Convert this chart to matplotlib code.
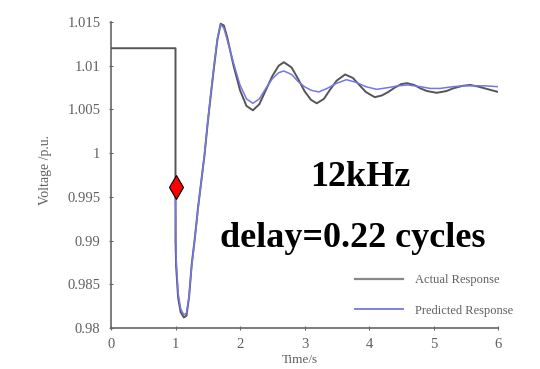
import matplotlib
matplotlib.use("Agg")
import matplotlib.pyplot as plt
from matplotlib.lines import Line2D

# Actual response (time s, voltage p.u.)
actual_t = [0.0, 1.0, 1.0, 1.01, 1.04, 1.08, 1.13, 1.17, 1.21, 1.25, 1.3, 1.35, 1.4, 1.45, 1.5,
            1.55, 1.6, 1.65, 1.7, 1.75, 1.8, 1.9, 2.0, 2.1, 2.2, 2.3, 2.4, 2.5, 2.6, 2.68, 2.8,
            2.9, 3.0, 3.1, 3.19, 3.3, 3.4, 3.5, 3.63, 3.75, 3.85, 3.95, 4.09, 4.2, 4.3,
            4.4, 4.5, 4.59, 4.7, 4.8, 4.9, 5.05, 5.2, 5.3, 5.45, 5.57, 5.7, 5.8, 5.9, 6.0]
actual_v = [1.012, 1.012, 0.990, 0.987, 0.9835, 0.9818, 0.9812, 0.9814, 0.9835, 0.9872, 0.9903,
            0.9938, 0.9968, 0.9998, 1.0035, 1.0068, 1.0100, 1.0130, 1.0148, 1.0146, 1.0133,
            1.0100, 1.0072, 1.0054, 1.0049, 1.0056, 1.0072, 1.0088, 1.0100, 1.0104, 1.0098,
            1.0085, 1.0071, 1.0061, 1.0057, 1.0062, 1.0073, 1.0083, 1.0090, 1.0086, 1.0078,
            1.0070, 1.0064, 1.0066, 1.0070, 1.0075, 1.0079, 1.0080, 1.0078, 1.0074, 1.0071,
            1.0069, 1.0071, 1.0074, 1.0077, 1.0078, 1.0076, 1.0074, 1.0072, 1.0070]

# Predicted response
pred_t = [1.0, 1.01, 1.04, 1.08, 1.13, 1.17, 1.21, 1.25, 1.3, 1.35, 1.4, 1.45, 1.5, 1.55, 1.6,
          1.65, 1.7, 1.75, 1.8, 1.9, 2.0, 2.1, 2.2, 2.3, 2.4, 2.5, 2.6, 2.68, 2.8, 2.9, 3.0,
          3.1, 3.22, 3.35, 3.5, 3.65, 3.8, 3.95, 4.12, 4.3, 4.45, 4.6, 4.8, 4.95, 5.1, 5.3,
          5.45, 5.6, 5.8, 6.0]
pred_v = [0.996, 0.988, 0.984, 0.9822, 0.9815, 0.9817, 0.9836, 0.9870, 0.9902, 0.9937, 0.9968,
          0.9999, 1.0036, 1.0070, 1.0102, 1.0131, 1.0147, 1.0143, 1.0130, 1.0103, 1.0078,
          1.0062, 1.0057, 1.0062, 1.0074, 1.0085, 1.0092, 1.0094, 1.0090, 1.0082, 1.0076,
          1.0072, 1.0070, 1.0074, 1.0080, 1.0084, 1.0081, 1.0076, 1.0073, 1.0075, 1.0077,
          1.0078, 1.0076, 1.0074, 1.0074, 1.0076, 1.0077, 1.0077, 1.0077, 1.0076]

marker_t = [1.0]
marker_v = [0.9961]

xticks = [0, 1, 2, 3, 4, 5, 6]
yticks = [0.98, 0.985, 0.99, 0.995, 1.0, 1.005, 1.01, 1.015]
ytick_labels = ["0.98", "0.985", "0.99", "0.995", "1", "1.005", "1.01", "1.015"]

plt.rcParams['font.family'] = ['Liberation Serif', 'DejaVu Serif']

fig = plt.figure(figsize=(5.4, 3.69), dpi=100)
ax = fig.add_axes([111/540, 41/369, (498-111)/540, (328-22)/369])

black = '#555555'
blue = '#7676e6'
ax.plot(actual_t, actual_v, color=black, lw=1.4, zorder=3)
ax.plot(pred_t, pred_v, color=blue, lw=1.1, zorder=4)
ax.plot(marker_t, marker_v, marker='d', color='red', markeredgecolor='black',
        markeredgewidth=0.8, markersize=12, ls='none', zorder=5)

ax.set_xlim(0, 6)
ax.set_ylim(0.98, 1.015)
ax.set_xticks(xticks)
ax.set_yticks(yticks)
ax.set_yticklabels(ytick_labels)
for s in ['top', 'right']:
    ax.spines[s].set_visible(False)
for s in ['left', 'bottom']:
    ax.spines[s].set_color('#666666')
    ax.spines[s].set_linewidth(1.2)
ax.tick_params(direction='inout', length=3, width=0.8, colors='#666666',
               labelcolor='#606060', labelsize=10.5, pad=6)

fig.text(300/540, 1 - 360/369, 'Time/s', ha='center', va='center', fontsize=9.5, color='#606060')
fig.text(45/540, 1 - 170/369, 'Voltage /p.u.', ha='center', va='center', rotation=90,
         fontsize=10, color='#606060')

fig.text(360/540, 1 - 186/369, '12kHz', ha='center', va='baseline', fontsize=26,
         fontweight='bold', color='black')
fig.text(353/540, 1 - 247/369, 'delay=0.22 cycles', ha='center', va='baseline', fontsize=26,
         fontweight='bold', color='black')

handles = [Line2D([], [], color='#888888', lw=1.6), Line2D([], [], color=blue, lw=1.3)]
fig.legend(handles, ['Actual Response', 'Predicted Response'], loc='upper left',
           bbox_to_anchor=(355/540, 1 - 274/369), frameon=False, fontsize=9,
           handlelength=3.8, handletextpad=1.0, labelspacing=1.5, borderpad=0,
           borderaxespad=0, labelcolor='#606060')

fig.savefig('out.png', dpi=100)
